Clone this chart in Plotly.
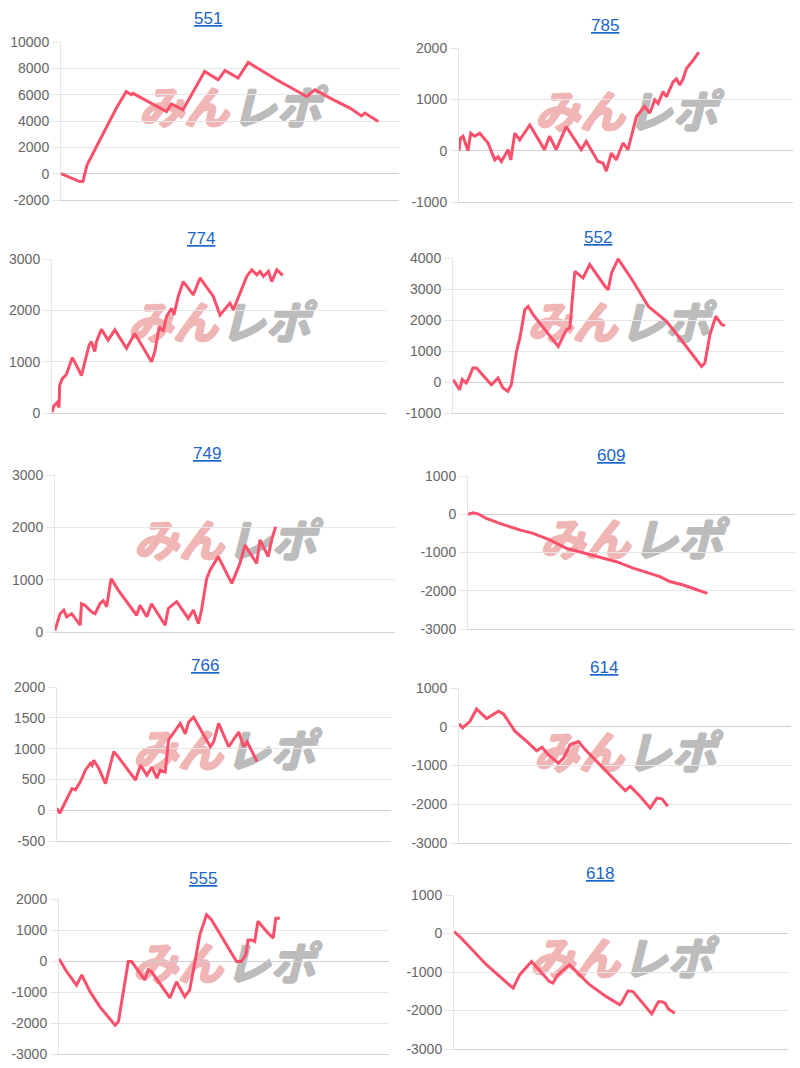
import plotly.graph_objects as go

# ---------------- data ----------------
titles = ["551", "785", "774", "552", "749", "609", "766", "614", "555", "618"]

x_551 = [0, 5.5, 6.5, 7.7, 11.5, 16.4, 19.3, 20.8, 21.3, 31.2, 32.7, 36.1, 42.5, 46.5, 48.5, 52.4, 55.4, 63.8, 72.7, 75.1, 80.6, 85.5, 88.9, 89.9, 93.9]
y_551 = [0, -600, -580, 660, 2560, 4980, 6240, 6000, 6100, 4720, 5300, 4850, 7770, 7130, 7840, 7260, 8450, 7130, 5860, 6370, 5600, 4980, 4390, 4600, 3960]

x_785 = [0, 0.4, 1.2, 2.0, 2.7, 3.5, 4.7, 6.2, 8.7, 10.7, 11.7, 12.7, 13.7, 14.7, 15.5, 16.7, 18.2, 21.2, 25.6, 27.1, 29.1, 32.1, 36.6, 38.1, 41.6, 43.1, 44.1, 45.6, 47.1, 49.1, 50.6, 52.1, 53.1, 55.6, 57.1, 58.6, 59.6, 61.1, 62.1, 64.1, 65.1, 66.1, 67.1, 68.1, 70.1, 71.8]
y_785 = [0, 240, 280, 110, 0, 340, 280, 340, 150, -180, -120, -210, -80, 20, -180, 340, 210, 500, 20, 280, 20, 470, 20, 180, -210, -240, -400, -50, -180, 150, 20, 440, 660, 860, 730, 990, 920, 1150, 1050, 1340, 1400, 1280, 1400, 1600, 1760, 1920]

x_774 = [0, 0.6, 1.5, 2.1, 2.3, 3.1, 4.3, 5.5, 6.1, 8.3, 8.8, 11.1, 11.8, 12.8, 13.3, 14.8, 16.8, 18.8, 21.8, 22.3, 24.8, 29.8, 30.8, 32.1, 33.3, 34.3, 35.8, 36.5, 37.8, 39.3, 42.3, 44.3, 48.3, 50.3, 53.3, 54.3, 58.3, 59.8, 61.3, 62.3, 63.3, 64.8, 65.8, 67.3, 69.1]
y_774 = [20, 140, 200, 110, 540, 670, 750, 1000, 1080, 800, 730, 1320, 1390, 1200, 1390, 1630, 1420, 1620, 1290, 1260, 1550, 1000, 1200, 1680, 1590, 1880, 2040, 1910, 2270, 2560, 2300, 2630, 2270, 1910, 2140, 2010, 2660, 2790, 2690, 2760, 2660, 2760, 2560, 2790, 2680]

x_552 = [0, 1.0, 2.0, 2.8, 4.0, 4.8, 6.0, 7.1, 11.6, 13.6, 15.1, 16.6, 17.6, 19.2, 20.2, 21.7, 22.7, 24.2, 31.8, 34.3, 35.3, 36.8, 39.3, 41.3, 45.9, 46.9, 47.9, 49.9, 54.4, 59.0, 64.5, 68.5, 75.1, 76.1, 77.6, 79.4, 81.2, 82.2]
y_552 = [80, -90, -250, 80, -30, 130, 450, 450, -90, 130, -190, -300, -90, 990, 1420, 2330, 2440, 2170, 1150, 1690, 1740, 3570, 3360, 3790, 3090, 2980, 3520, 3970, 3250, 2440, 1960, 1420, 500, 610, 1520, 2120, 1850, 1820]

x_749 = [0, 0.7, 1.5, 2.6, 3.4, 4.9, 5.9, 7.4, 7.8, 8.8, 10.8, 11.8, 13.2, 14.2, 15.2, 16.5, 18.6, 22.1, 24.0, 25.0, 27.0, 28.4, 31.4, 32.4, 33.3, 35.8, 39.2, 40.7, 42.2, 43.1, 44.6, 45.6, 48.0, 52.0, 54.4, 55.9, 59.3, 60.3, 62.7, 63.7, 64.9]
y_749 = [30, 190, 350, 420, 290, 350, 260, 130, 540, 510, 380, 350, 540, 600, 480, 1020, 800, 480, 320, 510, 290, 540, 230, 130, 450, 580, 260, 420, 160, 420, 1020, 1180, 1440, 930, 1310, 1660, 1310, 1760, 1440, 1760, 2010]

x_609 = [0, 1.5, 3.1, 5.6, 9.7, 12.8, 15.8, 19.9, 25.0, 30.1, 38.3, 41.3, 45.4, 50.5, 55.6, 58.7, 61.7, 65.8, 68.9, 73.2]
y_609 = [0, 40, 10, -110, -240, -330, -410, -500, -670, -890, -1070, -1150, -1240, -1410, -1550, -1630, -1760, -1850, -1940, -2070]

x_766 = [0, 0.8, 2.0, 4.5, 5.5, 7.0, 8.5, 10.0, 10.5, 11.0, 12.5, 14.5, 17.0, 18.0, 23.5, 25.0, 26.9, 28.4, 29.9, 30.9, 32.4, 33.4, 36.9, 38.4, 39.4, 40.9, 45.9, 46.9, 48.4, 51.4, 54.4, 55.9, 56.9, 59.9]
y_766 = [30, -50, 80, 350, 330, 460, 650, 760, 730, 810, 680, 430, 950, 890, 490, 730, 570, 700, 520, 650, 620, 1140, 1410, 1240, 1430, 1510, 1030, 1110, 1410, 1030, 1270, 1030, 1110, 790]

x_614 = [0, 1.1, 3.3, 5.3, 8.3, 11.9, 13.4, 16.9, 20.4, 23.4, 25.0, 26.9, 29.9, 31.5, 33.5, 36.0, 38.0, 42.5, 46.5, 50.1, 51.6, 54.6, 57.6, 59.6, 61.1, 62.9]
y_614 = [80, -30, 140, 460, 210, 400, 330, -120, -380, -620, -530, -720, -940, -810, -460, -380, -590, -980, -1320, -1650, -1540, -1800, -2100, -1840, -1860, -2050]

x_555 = [0, 2.3, 5.3, 6.9, 9.4, 12.4, 17.0, 18.0, 21.0, 22.0, 26.0, 27.0, 28.0, 33.6, 35.6, 38.1, 39.6, 42.7, 44.7, 46.2, 53.8, 55.3, 56.6, 57.3, 58.3, 59.3, 60.3, 62.9, 64.9, 65.7, 66.9]
y_555 = [70, -340, -780, -450, -990, -1480, -2070, -1960, -20, -20, -610, -290, -340, -1190, -670, -1150, -940, 850, 1490, 1330, -20, -20, 200, 680, 680, 630, 1280, 950, 740, 1380, 1380]

x_618 = [0, 1.7, 9.7, 13.7, 17.7, 19.7, 22.7, 23.2, 28.6, 29.6, 31.1, 34.6, 35.6, 40.6, 45.6, 49.6, 50.1, 52.1, 53.6, 55.6, 59.2, 61.2, 62.2, 63.2, 64.2, 66.1]
y_618 = [50, -80, -810, -1120, -1420, -1070, -770, -730, -1250, -1290, -1070, -810, -900, -1330, -1640, -1850, -1810, -1490, -1510, -1720, -2090, -1770, -1770, -1810, -1960, -2070]

ticks_551 = [-2000, 0, 2000, 4000, 6000, 8000, 10000]
ticks_785 = [-1000, 0, 1000, 2000]
ticks_774 = [0, 1000, 2000, 3000]
ticks_552 = [-1000, 0, 1000, 2000, 3000, 4000]
ticks_749 = [0, 1000, 2000, 3000]
ticks_609 = [-3000, -2000, -1000, 0, 1000]
ticks_766 = [-500, 0, 500, 1000, 1500, 2000]
ticks_614 = [-3000, -2000, -1000, 0, 1000]
ticks_555 = [-3000, -2000, -1000, 0, 1000, 2000]
ticks_618 = [-3000, -2000, -1000, 0, 1000]

series_x = [x_551, x_785, x_774, x_552, x_749, x_609, x_766, x_614, x_555, x_618]
series_y = [y_551, y_785, y_774, y_552, y_749, y_609, y_766, y_614, y_555, y_618]
series_ticks = [ticks_551, ticks_785, ticks_774, ticks_552, ticks_749,
                ticks_609, ticks_766, ticks_614, ticks_555, ticks_618]

# ---------------- layout (pixel boxes of each plot area) ----------------
W, H = 800, 1068
boxes = [  # left, right, top, bottom (px)
    (61, 399, 42, 200), (459, 793, 48, 202),
    (52, 386, 259, 413), (453, 784, 258, 413),
    (55, 395, 475, 632), (468, 795, 476, 629),
    (57, 391, 687, 841), (459, 791, 688, 843),
    (59, 389, 899, 1054), (454, 788, 895, 1049),
]
title_pos = [(208, 18), (605, 25), (201, 238), (598, 237), (207, 453),
             (611, 455), (205, 665), (604, 667), (203, 878), (600, 873)]

LINE = "#f9506b"
GRID = "#e6e6e6"
FONT = "Liberation Sans, Arial, sans-serif"
PINK = "#f0b6b6"
GREY = "#bcbcbc"


def thick(col):
    return ", ".join("%dpx %dpx 0 %s" % (dx, dy, col)
                     for dx, dy in ((1, 0), (-1, 0), (0, 1), (0, -1), (1, 1)))


fig = go.Figure()
layout = dict(
    width=W, height=H, autosize=False, margin=dict(l=0, r=0, t=0, b=0, pad=0),
    paper_bgcolor="white", plot_bgcolor="white", showlegend=False,
    font=dict(family=FONT), annotations=[], shapes=[],
)

for i in range(10):
    k = "" if i == 0 else str(i + 1)
    xa, ya = "x" + k, "y" + k
    l, r, t, b = boxes[i]
    ticks = series_ticks[i]
    layout["xaxis" + k] = dict(
        domain=[l / W, r / W], range=[0, 100], anchor=ya, automargin=False,
        showgrid=False, zeroline=False, showticklabels=False, ticks="",
        showline=True, linecolor="#d4d4d4", linewidth=1, fixedrange=True,
    )
    layout["yaxis" + k] = dict(
        domain=[1 - b / H, 1 - t / H], range=[ticks[0], ticks[-1]], anchor=xa,
        automargin=False,
        tickvals=ticks, ticktext=[str(v) for v in ticks],
        showgrid=True, gridcolor=GRID, gridwidth=1,
        ticks="outside", ticklen=8, tickcolor=GRID, tickwidth=1,
        showline=True, linecolor=GRID, linewidth=1,
        zeroline=True, zerolinecolor="#cfcfcf", zerolinewidth=1.3,
        tickfont=dict(size=14, color="#666666", family=FONT), fixedrange=True,
    )
    fig.add_trace(go.Scatter(
        x=series_x[i], y=series_y[i], mode="lines", xaxis=xa, yaxis=ya,
        line=dict(color=LINE, width=3, shape="linear"), hoverinfo="skip",
    ))
    tx, ty = title_pos[i]
    layout["annotations"].append(dict(
        text="<u>" + titles[i] + "</u>", xref="paper", yref="paper",
        x=tx / W, y=1 - ty / H, xanchor="center", yanchor="middle",
        showarrow=False, font=dict(size=17, color="#1a66c8", family=FONT),
    ))
    # watermark logo (みんレポ) beneath the line
    for txt, x0, x1, pos, col in (("みん", 0.0, 0.505, "middle right", PINK),
                                  ("レポ", 0.495, 1.0, "middle left", GREY)):
        layout["shapes"].append(dict(
            type="rect", xref=xa + " domain", yref=ya + " domain",
            x0=x0, x1=x1, y0=0.45, y1=0.67, layer="below",
            line=dict(width=0), fillcolor="rgba(0,0,0,0)",
            label=dict(text=txt, textposition=pos, padding=0,
                       font=dict(size=45, color=col,
                                 family="Noto Sans CJK JP",
                                 weight="bold", style="italic",
                                 shadow=thick(col))),
        ))

fig.update_layout(**layout)
fig.write_html("out.html",
               post_script="document.body.style.margin='0';"
                           "document.body.style.padding='0';")
